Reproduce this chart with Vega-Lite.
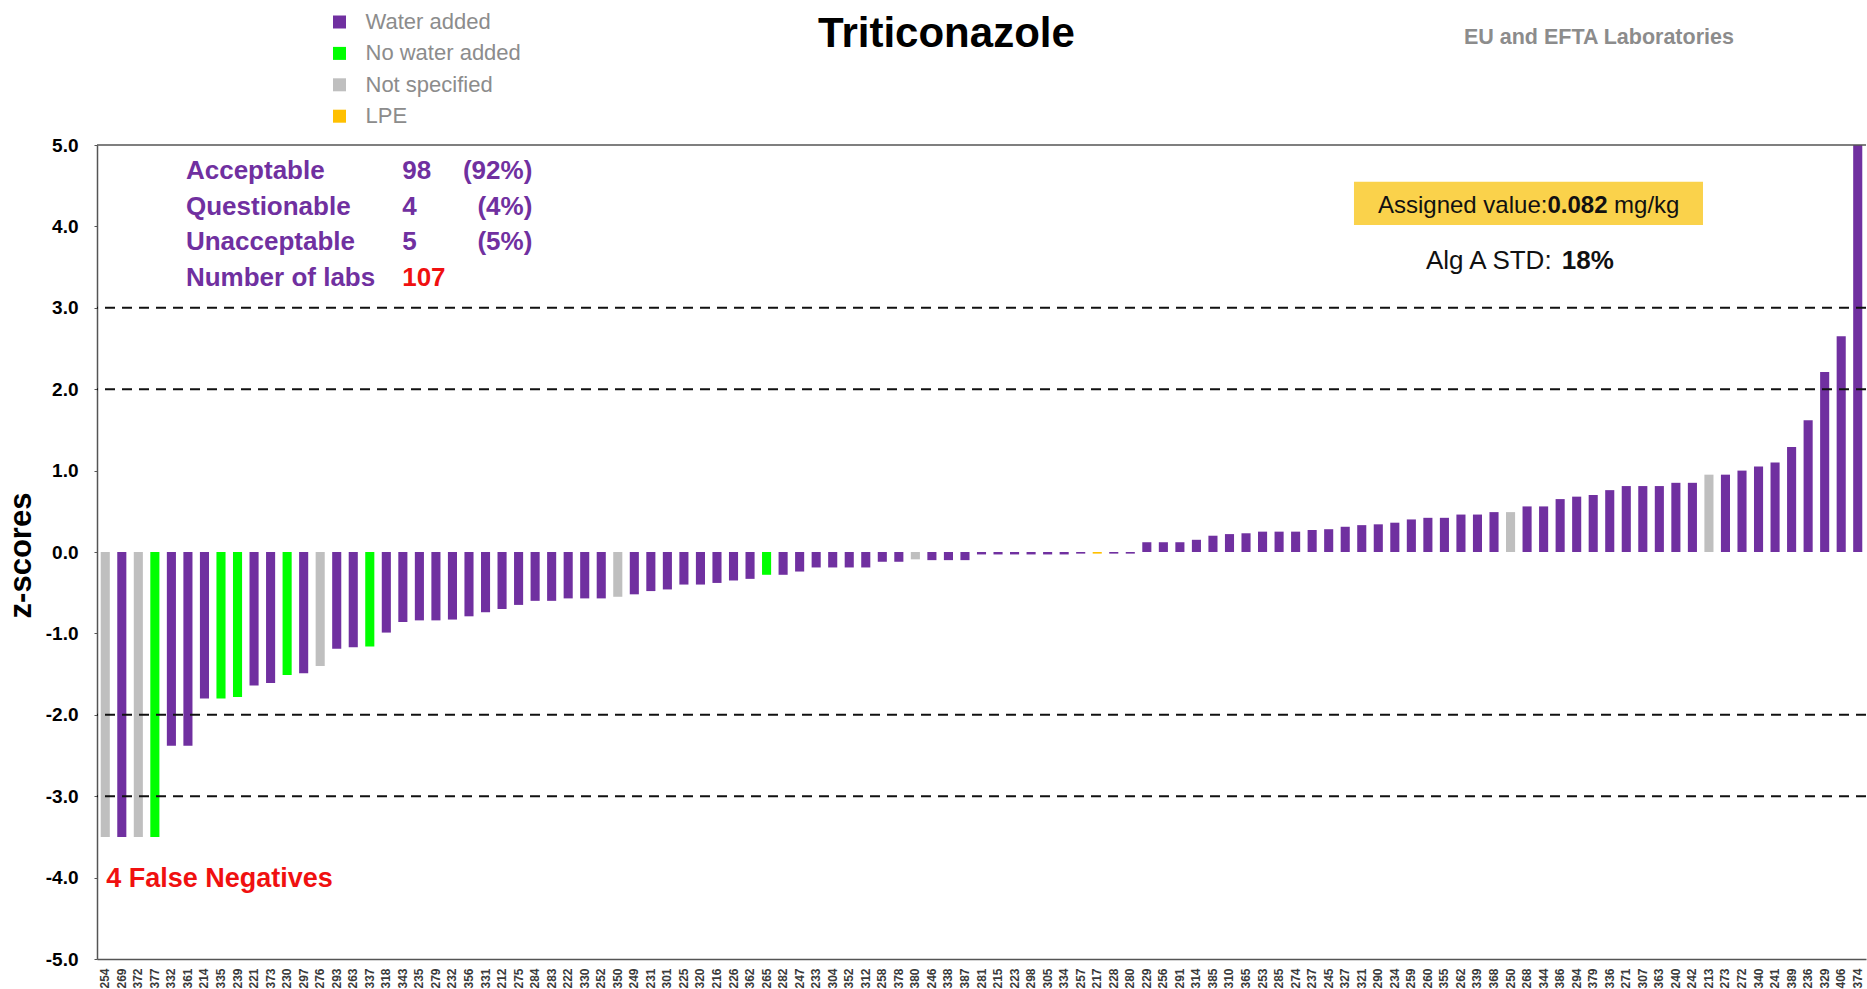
{
  "$schema": "https://vega.github.io/schema/vega-lite/v6.json",
  "width": 1769,
  "height": 814,
  "autosize": {"type": "none"},
  "padding": {"left": 97, "top": 145, "right": 1, "bottom": 30},
  "background": "white",
  "config": {"view": {"stroke": null}, "font": "Liberation Sans"},
  "datasets": {
    "labs": [
      {"lab":"254","z":-3.5,"group":"Not specified"},
      {"lab":"269","z":-3.5,"group":"Water added"},
      {"lab":"372","z":-3.5,"group":"Not specified"},
      {"lab":"377","z":-3.5,"group":"No water added"},
      {"lab":"332","z":-2.38,"group":"Water added"},
      {"lab":"361","z":-2.38,"group":"Water added"},
      {"lab":"214","z":-1.8,"group":"Water added"},
      {"lab":"335","z":-1.8,"group":"No water added"},
      {"lab":"239","z":-1.78,"group":"No water added"},
      {"lab":"221","z":-1.64,"group":"Water added"},
      {"lab":"373","z":-1.61,"group":"Water added"},
      {"lab":"230","z":-1.51,"group":"No water added"},
      {"lab":"297","z":-1.49,"group":"Water added"},
      {"lab":"276","z":-1.4,"group":"Not specified"},
      {"lab":"293","z":-1.19,"group":"Water added"},
      {"lab":"263","z":-1.17,"group":"Water added"},
      {"lab":"337","z":-1.16,"group":"No water added"},
      {"lab":"318","z":-0.99,"group":"Water added"},
      {"lab":"343","z":-0.86,"group":"Water added"},
      {"lab":"235","z":-0.84,"group":"Water added"},
      {"lab":"279","z":-0.84,"group":"Water added"},
      {"lab":"232","z":-0.83,"group":"Water added"},
      {"lab":"356","z":-0.79,"group":"Water added"},
      {"lab":"331","z":-0.74,"group":"Water added"},
      {"lab":"212","z":-0.7,"group":"Water added"},
      {"lab":"275","z":-0.65,"group":"Water added"},
      {"lab":"284","z":-0.6,"group":"Water added"},
      {"lab":"283","z":-0.6,"group":"Water added"},
      {"lab":"222","z":-0.57,"group":"Water added"},
      {"lab":"330","z":-0.57,"group":"Water added"},
      {"lab":"252","z":-0.57,"group":"Water added"},
      {"lab":"350","z":-0.55,"group":"Not specified"},
      {"lab":"249","z":-0.52,"group":"Water added"},
      {"lab":"231","z":-0.48,"group":"Water added"},
      {"lab":"301","z":-0.46,"group":"Water added"},
      {"lab":"225","z":-0.4,"group":"Water added"},
      {"lab":"320","z":-0.4,"group":"Water added"},
      {"lab":"216","z":-0.38,"group":"Water added"},
      {"lab":"226","z":-0.35,"group":"Water added"},
      {"lab":"362","z":-0.33,"group":"Water added"},
      {"lab":"265","z":-0.28,"group":"No water added"},
      {"lab":"282","z":-0.28,"group":"Water added"},
      {"lab":"247","z":-0.24,"group":"Water added"},
      {"lab":"233","z":-0.19,"group":"Water added"},
      {"lab":"304","z":-0.19,"group":"Water added"},
      {"lab":"352","z":-0.19,"group":"Water added"},
      {"lab":"312","z":-0.19,"group":"Water added"},
      {"lab":"258","z":-0.12,"group":"Water added"},
      {"lab":"378","z":-0.12,"group":"Water added"},
      {"lab":"380","z":-0.09,"group":"Not specified"},
      {"lab":"246","z":-0.1,"group":"Water added"},
      {"lab":"338","z":-0.1,"group":"Water added"},
      {"lab":"387","z":-0.1,"group":"Water added"},
      {"lab":"281","z":-0.03,"group":"Water added"},
      {"lab":"215","z":-0.03,"group":"Water added"},
      {"lab":"223","z":-0.03,"group":"Water added"},
      {"lab":"298","z":-0.03,"group":"Water added"},
      {"lab":"305","z":-0.03,"group":"Water added"},
      {"lab":"334","z":-0.03,"group":"Water added"},
      {"lab":"257","z":-0.02,"group":"Water added"},
      {"lab":"217","z":-0.02,"group":"LPE"},
      {"lab":"228","z":-0.02,"group":"Water added"},
      {"lab":"280","z":-0.02,"group":"Water added"},
      {"lab":"229","z":0.12,"group":"Water added"},
      {"lab":"256","z":0.12,"group":"Water added"},
      {"lab":"291","z":0.12,"group":"Water added"},
      {"lab":"314","z":0.15,"group":"Water added"},
      {"lab":"385","z":0.2,"group":"Water added"},
      {"lab":"310","z":0.22,"group":"Water added"},
      {"lab":"365","z":0.23,"group":"Water added"},
      {"lab":"253","z":0.25,"group":"Water added"},
      {"lab":"285","z":0.25,"group":"Water added"},
      {"lab":"274","z":0.25,"group":"Water added"},
      {"lab":"237","z":0.27,"group":"Water added"},
      {"lab":"245","z":0.28,"group":"Water added"},
      {"lab":"327","z":0.31,"group":"Water added"},
      {"lab":"321","z":0.33,"group":"Water added"},
      {"lab":"290","z":0.34,"group":"Water added"},
      {"lab":"234","z":0.36,"group":"Water added"},
      {"lab":"259","z":0.4,"group":"Water added"},
      {"lab":"260","z":0.42,"group":"Water added"},
      {"lab":"355","z":0.42,"group":"Water added"},
      {"lab":"262","z":0.46,"group":"Water added"},
      {"lab":"339","z":0.46,"group":"Water added"},
      {"lab":"368","z":0.49,"group":"Water added"},
      {"lab":"250","z":0.49,"group":"Not specified"},
      {"lab":"268","z":0.56,"group":"Water added"},
      {"lab":"344","z":0.56,"group":"Water added"},
      {"lab":"386","z":0.65,"group":"Water added"},
      {"lab":"294","z":0.68,"group":"Water added"},
      {"lab":"379","z":0.7,"group":"Water added"},
      {"lab":"336","z":0.76,"group":"Water added"},
      {"lab":"271","z":0.81,"group":"Water added"},
      {"lab":"307","z":0.81,"group":"Water added"},
      {"lab":"363","z":0.81,"group":"Water added"},
      {"lab":"240","z":0.85,"group":"Water added"},
      {"lab":"242","z":0.85,"group":"Water added"},
      {"lab":"213","z":0.95,"group":"Not specified"},
      {"lab":"273","z":0.95,"group":"Water added"},
      {"lab":"272","z":1.0,"group":"Water added"},
      {"lab":"340","z":1.05,"group":"Water added"},
      {"lab":"241","z":1.1,"group":"Water added"},
      {"lab":"389","z":1.29,"group":"Water added"},
      {"lab":"236","z":1.62,"group":"Water added"},
      {"lab":"329","z":2.21,"group":"Water added"},
      {"lab":"406","z":2.65,"group":"Water added"},
      {"lab":"374","z":5.0,"group":"Water added"}
    ]
  },
  "resolve": {"scale": {"x": "independent"}},
  "layer": [
    {
      "data": {"name": "labs"},
      "mark": {"type": "bar", "clip": true},
      "encoding": {
        "x": {
          "field": "lab", "type": "nominal", "sort": null,
          "scale": {"paddingInner": 0.45, "paddingOuter": 0.225},
          "axis": {"title": null, "labelAngle": 270, "labelFontSize": 12, "labelFontWeight": "bold", "labelColor": "#3a3a3a", "ticks": false, "labelPadding": 9, "domainColor": "#555555", "domainWidth": 1.5, "labelOverlap": false}
        },
        "y": {
          "field": "z", "type": "quantitative",
          "scale": {"domain": [-5, 5], "nice": false, "zero": false},
          "axis": {
            "title": "z-scores", "values": [-5, -4, -3, -2, -1, 0, 1, 2, 3, 4, 5],
            "labelExpr": "datum.value < 0 ? '-' + format(-datum.value, '.1f') : format(datum.value, '.1f')",
            "labelFontSize": 19, "labelFontWeight": "bold", "labelColor": "#000000",
            "tickSize": 3, "tickColor": "#555555", "labelPadding": 16,
            "domainColor": "#555555", "domainWidth": 1.5, "grid": false,
            "titleX": -76, "titleY": 410, "titleAngle": 270, "titleAlign": "center", "titleBaseline": "middle",
            "titleFontSize": 31, "titleFontWeight": "bold", "titleColor": "#000000"
          }
        },
        "color": {
          "field": "group", "type": "nominal",
          "scale": {"domain": ["Water added", "No water added", "Not specified", "LPE"], "range": ["#7030A0", "#00FF00", "#BFBFBF", "#FFC000"]},
          "legend": {
            "title": null, "orient": "none", "legendX": 231.5, "legendY": -134, "direction": "vertical",
            "symbolType": "square", "symbolSize": 169, "symbolStrokeWidth": 0, "symbolOpacity": 1,
            "labelFontSize": 22, "labelColor": "#8c8c8c", "labelOffset": 15, "labelLimit": 400,
            "rowPadding": 9.4, "padding": 0
          }
        }
      }
    },
    {
      "data": {"values": [{"limit": 3}, {"limit": 2}, {"limit": -2}, {"limit": -3}]},
      "mark": {"type": "rule", "strokeDash": [10, 7], "strokeWidth": 2, "color": "#111111"},
      "encoding": {"y": {"field": "limit", "type": "quantitative"}}
    },
    {
      "data": {"values": [{}]},
      "mark": {"type": "rule", "strokeWidth": 1.5, "color": "#555555"},
      "encoding": {"y": {"datum": 5, "type": "quantitative"}}
    },
    {
      "data": {"values": [{}]},
      "mark": {"type": "rect", "color": "#FAD24B"},
      "encoding": {
        "x": {"datum": 76.03, "type": "quantitative", "scale": {"domain": [0, 107], "nice": false, "zero": false}, "axis": null},
        "x2": {"datum": 97.14},
        "y": {"datum": 4.549, "type": "quantitative"},
        "y2": {"datum": 4.017}
      }
    },
    {
      "data": {"values": [{}]},
      "mark": {"type": "text", "text": "Triticonazole", "align": "center", "baseline": "alphabetic", "fontSize": 42, "fontWeight": "bold", "color": "#000000"},
      "encoding": {
        "x": {"datum": 51.38, "type": "quantitative", "scale": {"domain": [0, 107], "nice": false, "zero": false}, "axis": null},
        "y": {"datum": 6.204, "type": "quantitative"}
      }
    },
    {
      "data": {"values": [{}]},
      "mark": {"type": "text", "text": "EU and EFTA Laboratories", "align": "right", "baseline": "alphabetic", "fontSize": 21.5, "fontWeight": "bold", "color": "#8c8c8c"},
      "encoding": {
        "x": {"datum": 99.01, "type": "quantitative", "scale": {"domain": [0, 107], "nice": false, "zero": false}, "axis": null},
        "y": {"datum": 6.24, "type": "quantitative"}
      }
    },
    {
      "data": {"values": [{}]},
      "mark": {"type": "text", "text": "Assigned value:", "align": "left", "baseline": "alphabetic", "fontSize": 24, "color": "#111111"},
      "encoding": {
        "x": {"datum": 77.48, "type": "quantitative", "scale": {"domain": [0, 107], "nice": false, "zero": false}, "axis": null},
        "y": {"datum": 4.161, "type": "quantitative"}
      }
    },
    {
      "data": {"values": [{}]},
      "mark": {"type": "text", "text": "0.082", "align": "left", "baseline": "alphabetic", "fontSize": 24, "fontWeight": "bold", "color": "#111111"},
      "encoding": {
        "x": {"datum": 87.73, "type": "quantitative", "scale": {"domain": [0, 107], "nice": false, "zero": false}, "axis": null},
        "y": {"datum": 4.161, "type": "quantitative"}
      }
    },
    {
      "data": {"values": [{}]},
      "mark": {"type": "text", "text": "mg/kg", "align": "left", "baseline": "alphabetic", "fontSize": 24, "color": "#111111"},
      "encoding": {
        "x": {"datum": 91.76, "type": "quantitative", "scale": {"domain": [0, 107], "nice": false, "zero": false}, "axis": null},
        "y": {"datum": 4.161, "type": "quantitative"}
      }
    },
    {
      "data": {"values": [{}]},
      "mark": {"type": "text", "text": "Alg A STD:", "align": "left", "baseline": "alphabetic", "fontSize": 26, "color": "#111111"},
      "encoding": {
        "x": {"datum": 80.38, "type": "quantitative", "scale": {"domain": [0, 107], "nice": false, "zero": false}, "axis": null},
        "y": {"datum": 3.48, "type": "quantitative"}
      }
    },
    {
      "data": {"values": [{}]},
      "mark": {"type": "text", "text": "18%", "align": "left", "baseline": "alphabetic", "fontSize": 26, "fontWeight": "bold", "color": "#111111"},
      "encoding": {
        "x": {"datum": 88.6, "type": "quantitative", "scale": {"domain": [0, 107], "nice": false, "zero": false}, "axis": null},
        "y": {"datum": 3.48, "type": "quantitative"}
      }
    },
    {
      "data": {"values": [{}]},
      "mark": {"type": "text", "text": ["Acceptable", "Questionable", "Unacceptable", "Number of labs"], "lineHeight": 35.6, "align": "left", "baseline": "alphabetic", "fontSize": 26, "fontWeight": "bold", "color": "#7030A0"},
      "encoding": {
        "x": {"datum": 5.38, "type": "quantitative", "scale": {"domain": [0, 107], "nice": false, "zero": false}, "axis": null},
        "y": {"datum": 4.579, "type": "quantitative"}
      }
    },
    {
      "data": {"values": [{}]},
      "mark": {"type": "text", "text": ["98", "4", "5"], "lineHeight": 35.6, "align": "left", "baseline": "alphabetic", "fontSize": 26, "fontWeight": "bold", "color": "#7030A0"},
      "encoding": {
        "x": {"datum": 18.46, "type": "quantitative", "scale": {"domain": [0, 107], "nice": false, "zero": false}, "axis": null},
        "y": {"datum": 4.579, "type": "quantitative"}
      }
    },
    {
      "data": {"values": [{}]},
      "mark": {"type": "text", "text": "107", "align": "left", "baseline": "alphabetic", "fontSize": 26, "fontWeight": "bold", "color": "#F01010"},
      "encoding": {
        "x": {"datum": 18.46, "type": "quantitative", "scale": {"domain": [0, 107], "nice": false, "zero": false}, "axis": null},
        "y": {"datum": 3.268, "type": "quantitative"}
      }
    },
    {
      "data": {"values": [{}]},
      "mark": {"type": "text", "text": ["(92%)", "(4%)", "(5%)"], "lineHeight": 35.6, "align": "right", "baseline": "alphabetic", "fontSize": 26, "fontWeight": "bold", "color": "#7030A0"},
      "encoding": {
        "x": {"datum": 26.33, "type": "quantitative", "scale": {"domain": [0, 107], "nice": false, "zero": false}, "axis": null},
        "y": {"datum": 4.579, "type": "quantitative"}
      }
    },
    {
      "data": {"values": [{}]},
      "mark": {"type": "text", "text": "4 False Negatives", "align": "left", "baseline": "alphabetic", "fontSize": 27, "fontWeight": "bold", "color": "#F01010"},
      "encoding": {
        "x": {"datum": 0.56, "type": "quantitative", "scale": {"domain": [0, 107], "nice": false, "zero": false}, "axis": null},
        "y": {"datum": -4.119, "type": "quantitative"}
      }
    }
  ]
}
